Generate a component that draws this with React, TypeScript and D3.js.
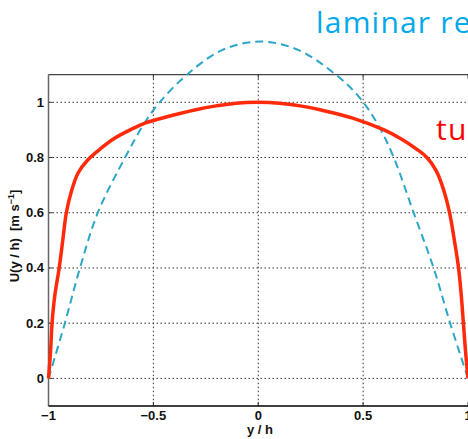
import React from 'react';
import * as d3 from 'd3';

// turbulent profile (red, solid)
const turbX = [-1, -0.99, -0.983, -0.97, -0.949, -0.932, -0.915, -0.891, -0.859, -0.812, -0.749, -0.685, -0.606, -0.543, -0.448, -0.298, -0.201, -0.106, 0,
  0.1, 0.2, 0.3, 0.45, 0.6, 0.68, 0.75, 0.804, 0.85, 0.885, 0.912, 0.935, 0.955, 0.968, 0.978, 0.988, 1];
const turbU = [0, 0.1, 0.2, 0.3, 0.4, 0.5, 0.6, 0.677, 0.744, 0.792, 0.834, 0.87, 0.902, 0.924, 0.945, 0.973, 0.987, 0.997, 1,
  0.997, 0.987, 0.972, 0.943, 0.9, 0.868, 0.833, 0.8, 0.75, 0.68, 0.6, 0.5, 0.4, 0.3, 0.2, 0.1, 0];

// laminar profile (blue, dashed)
const lamX = [-1, -0.922, -0.85, -0.765, -0.635, -0.543, -0.47, -0.34, -0.17, 0.01, 0.19, 0.37, 0.48, 0.57, 0.646, 0.741, 0.836, 0.915, 1];
const lamU = [0, 0.2, 0.4, 0.6, 0.8, 0.924, 1.0, 1.1, 1.19, 1.22, 1.19, 1.1, 1.02, 0.92, 0.8, 0.6, 0.4, 0.2, 0];

const xTicks = [-1, -0.5, 0, 0.5, 1];
const xTickLabels = ['\u22121', '\u22120.5', '0', '0.5', '1'];
const yTicks = [0, 0.2, 0.4, 0.6, 0.8, 1];
const yTickLabels = ['0', '0.2', '0.4', '0.6', '0.8', '1'];

const W = 468;
const H = 439;
const left = 48.5, right = 468, top = 74.7, bottom = 406;

export default function App() {
  const x = d3.scaleLinear().domain([-1, 1]).range([left, right]);
  const y = d3.scaleLinear().domain([-0.1, 1.1]).range([bottom, top]);

  const line = d3.line<[number, number]>()
    .x(d => x(d[0]))
    .y(d => y(d[1]))
    .curve(d3.curveCatmullRom.alpha(0.5));

  const turb = line(turbX.map((v, i) => [v, turbU[i]]));
  const lam = line(lamX.map((v, i) => [v, lamU[i]]));

  const gridStyle = { stroke: '#333', strokeWidth: 1, strokeDasharray: '1.5,2.5' };
  const tickFont = { fontFamily: 'Liberation Sans, Arial, sans-serif', fontSize: 13, fontWeight: 'bold' as const, fill: '#111' };

  return (
    <svg width={W} height={H} style={{ position: 'absolute', left: 0, top: 0, background: '#fff' }}>
      <rect x={0} y={0} width={W} height={H} fill="#fff" />

      {/* grid */}
      {xTicks.slice(1, -1).map(t => (
        <line key={'gx' + t} x1={x(t)} x2={x(t)} y1={top} y2={bottom} style={gridStyle} />
      ))}
      {yTicks.map(t => (
        <line key={'gy' + t} x1={left} x2={right} y1={y(t)} y2={y(t)} style={gridStyle} />
      ))}

      {/* tick marks */}
      {xTicks.map(t => (
        <g key={'tx' + t}>
          <line x1={x(t)} x2={x(t)} y1={top} y2={top + 4} stroke="#333" />
          <line x1={x(t)} x2={x(t)} y1={bottom} y2={bottom - 4} stroke="#333" />
        </g>
      ))}
      {yTicks.map(t => (
        <line key={'ty' + t} x1={left} x2={left + 4} y1={y(t)} y2={y(t)} stroke="#333" />
      ))}

      {/* box */}
      <line x1={left} x2={right + 2} y1={top} y2={top} stroke="#444" strokeWidth={1.3} />
      <line x1={left} x2={left} y1={top} y2={bottom} stroke="#666" strokeWidth={1.5} />
      <line x1={left} x2={right + 2} y1={bottom} y2={bottom} stroke="#000" strokeWidth={1.5} />

      {/* curves */}
      <path d={lam ?? ''} fill="none" stroke="#2ba6c6" strokeWidth={2} strokeDasharray="8,5" />
      <path d={turb ?? ''} fill="none" stroke="#ff2a0a" strokeWidth={3.5} strokeLinejoin="round" />

      {/* tick labels */}
      {xTicks.map((t, i) => (
        <text key={'lx' + t} x={x(t)} y={420} textAnchor="middle" style={tickFont}>{xTickLabels[i]}</text>
      ))}
      {yTicks.map((t, i) => (
        <text key={'ly' + t} x={44} y={y(t) + 4.5} textAnchor="end" style={tickFont}>{yTickLabels[i]}</text>
      ))}

      {/* axis labels */}
      <text x={260} y={434} textAnchor="middle" style={tickFont}>y / h</text>
      <text transform="translate(19,236) rotate(-90)" textAnchor="middle" style={tickFont}>
        {'U(y / h)\u00a0\u00a0[m s'}<tspan dy={-5} fontSize={9}>{'\u22121'}</tspan><tspan dy={5}>]</tspan>
      </text>

      {/* annotations */}
      <text x={316} y={33} style={{ fontFamily: 'Open Sans, sans-serif', fontSize: 30, letterSpacing: 1.2, fill: '#00a9ec' }}>laminar regime</text>
      <text x={436} y={140} style={{ fontFamily: 'Open Sans, sans-serif', fontSize: 30, letterSpacing: 1.2, fill: '#ff0000' }}>turbulent regime</text>
    </svg>
  );
}
